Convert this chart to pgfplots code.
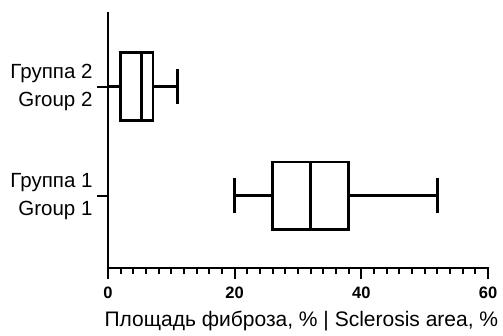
\documentclass[border=0pt]{standalone}
\usepackage{pgfplots}
\pgfplotsset{compat=1.18}
\usepgfplotslibrary{statistics}
\usepackage{fontspec}
\setmainfont{Liberation Sans}
\newcommand\tl[1]{\hbox{\fontsize{16.5}{18}\selectfont\bfseries #1}}
\begin{document}
\begin{tikzpicture}
\useasboundingbox (-108pt,-67pt) rectangle (395pt,268pt);
\begin{axis}[
  scale only axis,
  width=380pt, height=255pt,
  xmin=0, xmax=60,
  ymin=0.34, ymax=2.674,
  axis x line=bottom, axis y line=left,
  axis line style={-, line width=2.8pt, line cap=rect},
  xtick={0,20,40,60},
  xticklabels={\tl{0},\tl{20},\tl{40},\tl{60}},
  minor x tick num=9,
  ytick={1,2},
  yticklabels={{Группа 1\\Group 1},{Группа 2\\Group 2}},
  tick align=outside,
  major tick length=11pt,
  minor tick length=6pt,
  every tick/.style={black, line width=2.2pt},
  xticklabel style={yshift=-4pt},
  yticklabel style={align=right, font=\fontsize{20.5}{28}\selectfont, xshift=-1pt, yshift=-1pt},
  xlabel={Площадь фиброза, \% | Sclerosis area, \%},
  xlabel style={font=\fontsize{21}{24}\selectfont, at={(axis description cs:0.509,0)}, anchor=base, yshift=-58pt},
  clip=false,
  boxplot/draw direction=x,
]
\addplot+[black, line width=2.8pt, solid, mark=none,
  boxplot prepared={lower whisker=0, lower quartile=2, median=5.3, upper quartile=7.1, upper whisker=11, draw position=2, box extend=0.62, whisker extend=0.32}]
  coordinates {};
\addplot+[black, line width=2.8pt, solid, mark=none,
  boxplot prepared={lower whisker=20, lower quartile=26, median=32, upper quartile=38, upper whisker=52, draw position=1, box extend=0.62, whisker extend=0.32}]
  coordinates {};
\end{axis}
\end{tikzpicture}
\end{document}
